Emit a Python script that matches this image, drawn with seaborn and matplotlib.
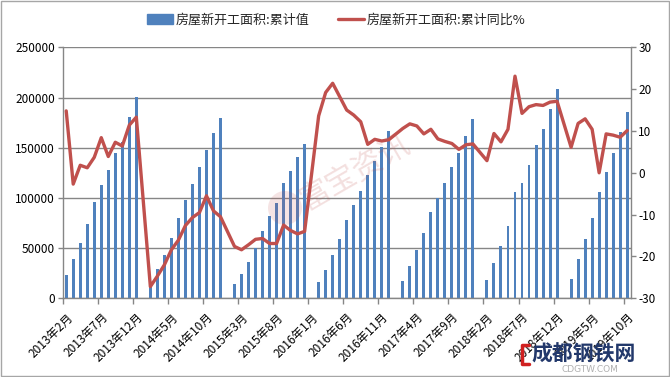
import numpy as np
import pandas as pd
import matplotlib
matplotlib.use("Agg")
import matplotlib.pyplot as plt
import seaborn as sns
from matplotlib.patches import Patch, Rectangle, Ellipse
from matplotlib.lines import Line2D

# ---------------- data ----------------
years = [2013, 2014, 2015, 2016, 2017, 2018, 2019]
first_month = {2013: 2}
last_month = {2019: 10}

# cumulative new construction area (Feb..Dec of each year; Jan has no data)
area_2013 = [23200, 39200, 55400, 74400, 96000, 112900, 127800, 144800, 156000, 181000, 200300]
area_2014 = [11500, 29200, 43200, 60100, 80000, 97900, 113900, 130800, 147700, 164700, 179600]
area_2015 = [14300, 24200, 36200, 50100, 67100, 82000, 95000, 114900, 126800, 140800, 153700]
area_2016 = [16300, 28200, 43200, 59100, 78000, 93000, 106900, 122800, 136800, 150700, 166700]
area_2017 = [17600, 32200, 48100, 65100, 86000, 99900, 114900, 130800, 144800, 161700, 178600]
area_2018 = [18600, 35200, 52100, 72000, 105900, 114900, 132800, 152700, 168700, 188600, 208500]
area_2019 = [19600, 39200, 59100, 80000, 105900, 125800, 144800, 165700, 185900]

# cumulative YoY (%)
yoy_2013 = [14.8, -2.7, 1.8, 1.2, 3.7, 8.4, 3.9, 7.3, 6.4, 11.4, 13.3]
yoy_2014 = [-27.2, -24.7, -22.0, -18.4, -16.1, -12.6, -10.7, -9.5, -5.5, -9.1, -10.5]
yoy_2015 = [-17.6, -18.4, -17.2, -15.9, -15.7, -16.9, -16.9, -12.5, -13.8, -14.6, -14.0]
yoy_2016 = [13.6, 19.2, 21.4, 18.2, 15.0, 13.8, 12.2, 6.8, 8.0, 7.6, 7.9]
yoy_2017 = [10.6, 11.7, 11.2, 9.3, 10.4, 8.1, 7.5, 7.0, 5.6, 6.7, 6.9]
yoy_2018 = [2.9, 9.4, 7.4, 10.4, 23.1, 14.2, 15.8, 16.3, 16.1, 16.9, 17.1]
yoy_2019 = [6.1, 11.8, 12.9, 10.4, 0.0, 9.3, 9.0, 8.5, 10.1]

area_by_year = dict(zip(years, [area_2013, area_2014, area_2015, area_2016, area_2017, area_2018, area_2019]))
yoy_by_year = dict(zip(years, [yoy_2013, yoy_2014, yoy_2015, yoy_2016, yoy_2017, yoy_2018, yoy_2019]))

bar_label = "房屋新开工面积:累计值"
line_label = "房屋新开工面积:累计同比%"

# all month categories (January slots are present but empty)
all_months = []
rows = []
for y in years:
    m0 = first_month.get(y, 1)
    m1 = last_month.get(y, 12)
    for m in range(m0, m1 + 1):
        lab = f"{y}年{m}月"
        pos = len(all_months)
        all_months.append(lab)
        if m >= 2:
            k = m - 2
            rows.append({"month": lab, "pos": pos,
                         "area": area_by_year[y][k], "yoy": yoy_by_year[y][k]})
df = pd.DataFrame(rows)
n = len(all_months)

# ---------------- style ----------------
sns.set_theme(style="white")
plt.rcParams["font.family"] = ["Noto Sans CJK SC", "DejaVu Sans"]
plt.rcParams["axes.unicode_minus"] = False

bar_color = "#4F81BD"
line_color = "#C0504D"
grid_color = "#868686"

fig = plt.figure(figsize=(6.7, 3.77), dpi=100)
ax = fig.add_axes([62.7 / 670, 1 - 298.3 / 377, (630.7 - 62.7) / 670, (298.3 - 47.3) / 377])

sns.barplot(data=df, x="month", y="area", order=all_months, color=bar_color,
            width=0.42, saturation=1, ax=ax, zorder=2, edgecolor="none", linewidth=0)

ax.set_ylim(0, 250000)
ax.set_yticks(np.arange(0, 250001, 50000))
ax.set_xlim(-0.5, n - 0.5)
ax.yaxis.grid(True, color=grid_color, linewidth=1.0, zorder=0)
ax.xaxis.grid(False)
ax.set_axisbelow(True)
ax.set_xlabel("")
ax.set_ylabel("")

label_pos = list(range(0, n, 5))
ax.set_xticks(label_pos)
ax.set_xticklabels([all_months[i] for i in label_pos], rotation=45, ha="right",
                   rotation_mode="anchor", fontsize=8.5, color="black")
ax.set_xticks(np.arange(-0.5, n, 5), minor=True)
ax.tick_params(axis="x", which="major", length=0, pad=9)
ax.tick_params(axis="x", which="minor", length=4, width=1, color=grid_color, direction="out", bottom=True)
ax.tick_params(axis="y", length=3.5, width=1, color=grid_color, direction="out", left=True,
               labelsize=8.5, labelcolor="black", pad=2)

for s in ["left", "bottom", "right"]:
    ax.spines[s].set_color(grid_color)
    ax.spines[s].set_linewidth(1.0)
ax.spines["top"].set_visible(False)

ax2 = ax.twinx()
sns.lineplot(data=df, x="pos", y="yoy", color=line_color, linewidth=2.4, ax=ax2, zorder=3)
ax2.set_ylim(-30, 30)
ax2.set_yticks(np.arange(-30, 31, 10))
ax2.set_xlim(-0.5, n - 0.5)
ax2.grid(False)
ax2.set_xlabel("")
ax2.set_ylabel("")
ax2.tick_params(axis="y", length=3.5, width=1, color=grid_color, direction="out", right=True,
                labelsize=8.5, labelcolor="black", pad=2)
for s in ["left", "bottom", "right", "top"]:
    ax2.spines[s].set_visible(False)

# legend
handles = [Patch(facecolor=bar_color, edgecolor=bar_color),
           Line2D([0], [0], color=line_color, linewidth=2.4)]
fig.legend(handles, [bar_label, line_label], loc="center", bbox_to_anchor=(0.502, 1 - 20 / 377),
           ncol=2, frameon=False, fontsize=9.4, handlelength=2.0, handleheight=0.7,
           handletextpad=0.2, columnspacing=2.2)

# watermarks
fig.text(0.53, 1 - 172 / 377, "富宝资讯", rotation=30, color=line_color, alpha=0.18,
         fontsize=22, ha="center", va="center")
fig.patches.append(Ellipse((285 / 670, 1 - 208 / 377), 34 / 670, 34 / 377,
                           transform=fig.transFigure, facecolor=line_color, alpha=0.15,
                           edgecolor="none"))
fig.text(584 / 670, 1 - 354 / 377, "成都钢铁网", color="#22386B", fontsize=15,
         fontweight="bold", ha="center", va="center")
fig.text(590 / 670, 1 - 369 / 377, "CDGTW.COM", color="#B0B0B0", fontsize=6.5,
         ha="center", va="center", family=["DejaVu Sans"])
# red bracket of the logo
bx = np.array([529, 522, 522, 529]) / 670
by = 1 - np.array([345, 345, 364, 364]) / 377
fig.lines.append(Line2D(bx, by, transform=fig.transFigure, color="#D02020", linewidth=2.5))

# outer frame
fig.patches.append(Rectangle((0.001, 0.002), 0.997, 0.996, transform=fig.transFigure,
                             fill=False, edgecolor="#A6A6A6", linewidth=1.0))

fig.savefig("out.png", dpi=100)
